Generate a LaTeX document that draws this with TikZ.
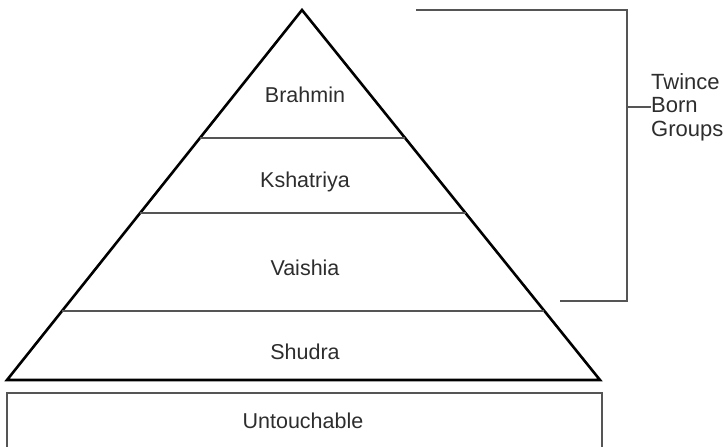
\documentclass[tikz,border=0pt]{standalone}
\usepackage{fontspec}
\setmainfont{Liberation Sans}
\usepackage{tikz}
\usetikzlibrary{calc}
\definecolor{ink}{RGB}{45,45,45}
\definecolor{rule}{RGB}{85,85,85}

\begin{document}
\begin{tikzpicture}[x=1pt,y=-1pt]
		\tikzstyle{every node}+=[inner sep=0pt]
		\tikzstyle{caste}=[font=\fontsize{21.5}{23}\selectfont, text=ink]
		\tikzstyle{divider}=[rule, line width=1.3pt]
		\clip (0,0) rectangle (724,447);
		% pyramid
		\coordinate (apex) at (302,10);
		\coordinate (baseL) at (7,380);
		\coordinate (baseR) at (600,380);
		\draw [black, line width=2.6pt, line join=miter] (apex) -- (baseL) -- (baseR) -- cycle;
		\draw [divider] ($(apex)!0.346!(baseL)$) -- ($(apex)!0.346!(baseR)$);
		\draw [divider] ($(apex)!0.549!(baseL)$) -- ($(apex)!0.549!(baseR)$);
		\draw [divider] ($(apex)!0.8135!(baseL)$) -- ($(apex)!0.8135!(baseR)$);
		\node [caste] (brahmin) at (305,95) {Brahmin};
		\node [caste] (kshatriya) at (305,182) {Kshatriya};
		\node [caste] (vaishia) at (305,268) {Vaishia};
		\node [caste] (shudra) at (305,352) {Shudra};
		% outcaste box
		\draw [divider] (7,393) rectangle (602,450);
		\node [caste] (untouchable) at (303,421) {Untouchable};
		% bracket
		\coordinate (brTop) at (416,10);
		\coordinate (brBot) at (560,301);
		\draw [divider] (brTop) -- (627,10) -- (627,301) -- (brBot);
		\node [caste, font=\fontsize{22}{23.5}\selectfont, align=left, anchor=west] (twice) at (651,107) {Twince\\Born\\Groups};
		\draw [divider] (627,107) -- (twice.west);
\end{tikzpicture}
\end{document}
